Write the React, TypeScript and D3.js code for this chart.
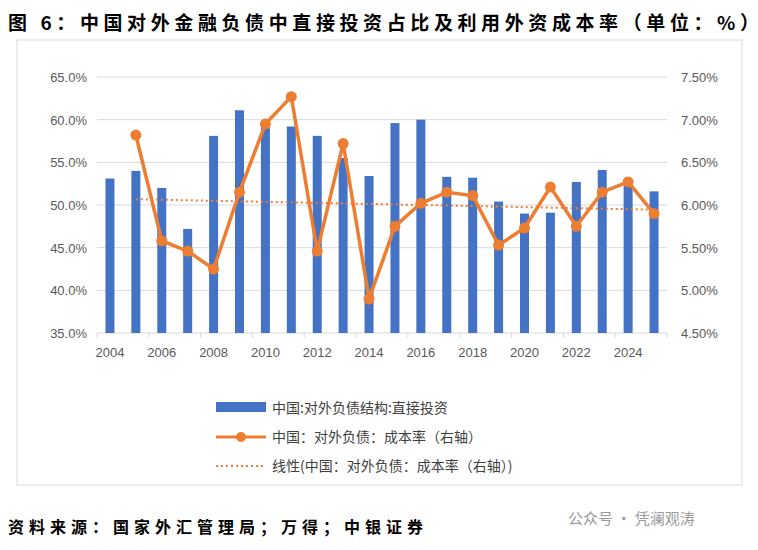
import React from "react";
import * as d3 from "d3";

const years = d3.range(2004, 2026).map(String);
const fdiShare = [53.1, 54.0, 52.0, 47.2, 58.1, 61.1, 59.4, 59.2, 58.1, 55.5, 53.4, 59.6, 60.0, 53.3, 53.2, 50.4, 49.0, 49.1, 52.7, 54.1, 52.6, 51.6];
const costRate: (number | null)[] = [null, 6.82, 5.58, 5.46, 5.25, 6.15, 6.95, 7.27, 5.46, 6.72, 4.90, 5.75, 6.02, 6.15, 6.11, 5.53, 5.73, 6.21, 5.75, 6.15, 6.27, 5.90];
const leftTicks = [35, 40, 45, 50, 55, 60, 65];
const rightTicks = [4.5, 5.0, 5.5, 6.0, 6.5, 7.0, 7.5];
const xLabels = ["2004", "2006", "2008", "2010", "2012", "2014", "2016", "2018", "2020", "2022", "2024"];

export default function App() {
  const W = 758, H = 550;
  const L = 97, R = 667, T = 77, B = 333;
  const x = d3.scaleBand().domain(years).range([L, R]);
  const yl = d3.scaleLinear().domain([35, 65]).range([B, T]);
  const yr = d3.scaleLinear().domain([4.5, 7.5]).range([B, T]);
  const pts = costRate.map((v, i) => ({ i, v })).filter((p) => p.v != null) as { i: number; v: number }[];
  const n = pts.length;
  const mx = d3.mean(pts, (p) => p.i)!, my = d3.mean(pts, (p) => p.v)!;
  const slope = d3.sum(pts, (p) => (p.i - mx) * (p.v - my)) / d3.sum(pts, (p) => (p.i - mx) ** 2);
  const cx = (i: number) => x(years[i])! + x.bandwidth() / 2;
  const line = d3.line<{ i: number; v: number }>().x((p) => cx(p.i)).y((p) => yr(p.v));
  const i0 = pts[0].i, i1 = pts[n - 1].i;
  const font = "'Liberation Sans', Arial, sans-serif";
  const serif = "'Noto Sans CJK SC', sans-serif";
  return (
    <svg width={W} height={H} style={{ position: "absolute", left: 0, top: 0, background: "#fff" }}>
      <text x={8} y={30} fontFamily={serif} fontWeight="bold" fontSize={19} letterSpacing={4.6} fill="#000">图 6：中国对外金融负债中直接投资占比及利用外资成本率（单位：%）</text>
      <rect x={17} y={40} width={725} height={445} fill="none" stroke="#d9d9d9" />
      {leftTicks.map((t) => (
        <g key={t}>
          <line x1={L} x2={R} y1={yl(t)} y2={yl(t)} stroke="#d9d9d9" />
          <text x={L - 10} y={yl(t) + 5} textAnchor="end" fontFamily={font} fontSize={13} fill="#595959">{t.toFixed(1)}%</text>
        </g>
      ))}
      {rightTicks.map((t) => (
        <text key={t} x={R + 14} y={yr(t) + 5} fontFamily={font} fontSize={13} fill="#595959">{t.toFixed(2)}%</text>
      ))}
      {years.map((y, i) => i % 2 === 0 && (
        <line key={y} x1={x(y)!} x2={x(y)!} y1={B} y2={B + 5} stroke="#d9d9d9" />
      ))}
      <line x1={R} x2={R} y1={B} y2={B + 5} stroke="#d9d9d9" />
      {xLabels.map((y) => (
        <text key={y} x={x(y)! + x.bandwidth() / 2} y={B + 24} textAnchor="middle" fontFamily={font} fontSize={13} fill="#595959">{y}</text>
      ))}
      {fdiShare.map((v, i) => (
        <rect key={i} x={cx(i) - 4.5} width={9} y={yl(v)} height={B - yl(v)} fill="#4472c4" />
      ))}
      <line x1={cx(i0)} x2={cx(i1)} y1={yr(my + slope * (i0 - mx))} y2={yr(my + slope * (i1 - mx))} stroke="#ed7d31" strokeWidth={2} strokeDasharray="2,3" />
      <path d={line(pts)!} fill="none" stroke="#ed7d31" strokeWidth={3.5} />
      {pts.map((p) => (
        <circle key={p.i} cx={cx(p.i)} cy={yr(p.v)} r={5.5} fill="#ed7d31" />
      ))}
      <g fontFamily={serif} fontSize={14} fill="#404040">
        <rect x={216} y={402} width={50} height={10} fill="#4472c4" />
        <text x={272} y={413}>中国:对外负债结构:直接投资</text>
        <line x1={216} x2={266} y1={437} y2={437} stroke="#ed7d31" strokeWidth={3} />
        <circle cx={241} cy={437} r={5} fill="#ed7d31" />
        <text x={272} y={442}>中国：对外负债：成本率（右轴）</text>
        <line x1={216} x2={266} y1={466} y2={466} stroke="#ed7d31" strokeWidth={2} strokeDasharray="2,3" />
        <text x={272} y={471}>线性(中国：对外负债：成本率（右轴）)</text>
      </g>
      <text x={8} y={533} fontFamily={serif} fontWeight="bold" fontSize={16} letterSpacing={5} fill="#000">资料来源：国家外汇管理局；万得；中银证券</text>
      <text x={568} y={524} fontFamily={serif} fontSize={15} fill="#9a9a9a">公众号 · 凭澜观涛</text>
    </svg>
  );
}
